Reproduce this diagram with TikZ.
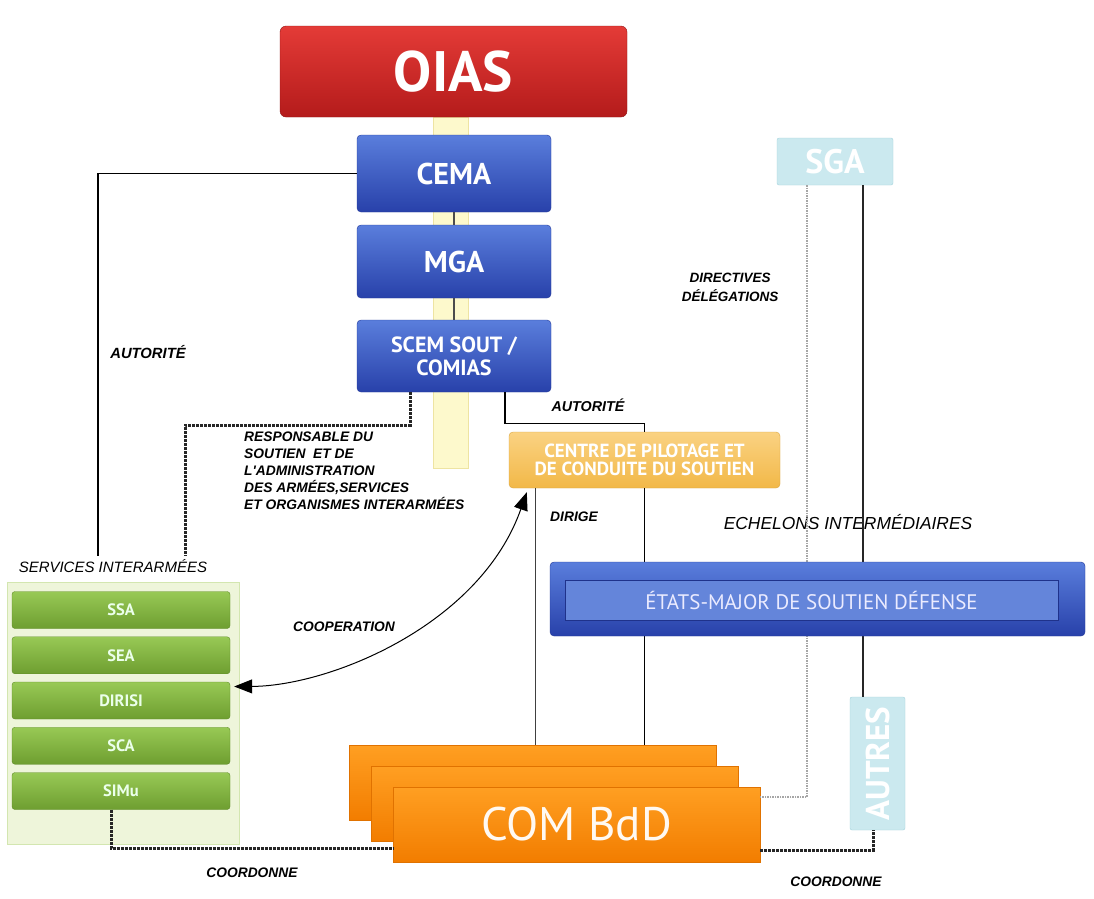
\documentclass[tikz,border=0pt]{standalone}
\usepackage{fontspec}
\setmainfont{PT Sans}
\newfontfamily\lblfont{Liberation Sans}
\usetikzlibrary{arrows.meta}

\definecolor{redtop}{HTML}{E43B37}
\definecolor{redbot}{HTML}{B41B1B}
\definecolor{bluetop}{HTML}{5A7EDC}
\definecolor{bluebot}{HTML}{2841AA}
\definecolor{bluedark}{HTML}{22389A}
\definecolor{innerblue}{HTML}{6485DA}
\definecolor{greentop}{HTML}{98C955}
\definecolor{greenbot}{HTML}{6E9E30}
\definecolor{greendark}{HTML}{5F8C27}
\definecolor{panelfill}{HTML}{EEF5DA}
\definecolor{paneldraw}{HTML}{D3E6B0}
\definecolor{orangetop}{HTML}{FF9F22}
\definecolor{orangebot}{HTML}{F27D00}
\definecolor{orangedark}{HTML}{E07200}
\definecolor{centretop}{HTML}{FAD282}
\definecolor{centrebot}{HTML}{F2B848}
\definecolor{cyanfill}{HTML}{CBE9EF}
\definecolor{cyandraw}{HTML}{A6D3DD}
\definecolor{stripfill}{HTML}{FDF9CC}
\definecolor{stripdraw}{HTML}{EEE4A2}

\begin{document}
\begin{tikzpicture}[x=1pt,y=-1pt,
    box/.style={rectangle,rounded corners=4pt,text=white,align=center,inner sep=0pt},
    bluebox/.style={box,draw=bluedark,top color=bluetop,bottom color=bluebot,minimum width=194pt},
    greenbox/.style={box,rounded corners=3pt,draw=greendark,top color=greentop,bottom color=greenbot,minimum width=218pt,minimum height=37pt,font=\fontsize{16.5}{16}\selectfont\bfseries,text=white!92!green},
    combox/.style={rectangle,draw=orangedark,top color=orangetop,bottom color=orangebot,minimum width=367pt,minimum height=75pt,inner sep=0pt},
    lbl/.style={font=\lblfont\fontsize{13.8}{17}\selectfont\bfseries\itshape,inner sep=1pt},
    link/.style={draw=black,line width=1.2pt},
    coordline/.style={line width=3pt,densely dotted,black!85},
    graydots/.style={line width=1.5pt,densely dotted,black!35}]

    \fill[white] (0,0) rectangle (1094,898);
    \useasboundingbox (0,0) rectangle (1094,898);

    \node[draw=stripdraw,fill=stripfill,minimum width=35pt,minimum height=351pt] (strip) at (450.5,292.5) {};

    \node[box,rounded corners=6pt,draw=redbot!80!black,top color=redtop,bottom color=redbot,minimum width=347pt,minimum height=91pt,font=\fontsize{57}{57}\selectfont\bfseries] (oias) at (453.5,71.5) {OIAS};
    \node[bluebox,minimum height=77pt,font=\fontsize{30}{30}\selectfont\bfseries] (cema) at (454,173.5) {CEMA};
    \node[bluebox,minimum height=73pt,font=\fontsize{30}{30}\selectfont\bfseries] (mga) at (454,261.5) {MGA};
    \node[bluebox,minimum height=72pt,font=\fontsize{22}{23}\selectfont\bfseries] (scem) at (454,356) {SCEM SOUT /\\COMIAS};

    \node[box,draw=centrebot!90!black,top color=centretop,bottom color=centrebot,minimum width=271pt,minimum height=56pt,font=\fontsize{19}{18.5}\selectfont\bfseries] (centre) at (644.5,460) {CENTRE DE PILOTAGE ET\\DE CONDUITE DU SOUTIEN};
    \node[box,rounded corners=2pt,draw=cyandraw,fill=cyanfill,minimum width=116pt,minimum height=47pt,font=\fontsize{34}{34}\selectfont\bfseries] (sga) at (835,161.5) {SGA};

    \node[draw=paneldraw,fill=panelfill,minimum width=232pt,minimum height=262pt] (panel) at (123,713) {};
    \foreach \nm/\txt [count=\i from 0] in {ssa/SSA,sea/SEA,dirisi/DIRISI,sca/SCA,simu/SIMu}
        \node[greenbox] (\nm) at (121,{610+45.25*\i}) {\txt};

    \node[combox] (comback) at (532.5,782.5) {};
    \node[combox] (commid) at (554.5,803.5) {};
    \node[combox,text=white!95!orange,font=\fontsize{47}{47}\selectfont] (comfront) at (576.5,824.5) {COM BdD};

    \node[box,rounded corners=2pt,draw=cyandraw,fill=cyanfill,minimum width=55pt,minimum height=133pt,font=\fontsize{33}{33}\selectfont\bfseries] (autres) at (877.5,763.5) {\rotatebox{90}{AUTRES}};

    \node[lbl,font=\lblfont\fontsize{14.8}{17}\selectfont\bfseries\itshape] (aut1) at (148,352) {AUTORITÉ};
    \node[lbl,anchor=north west,align=left] (resp) at (243,431) {RESPONSABLE DU\\SOUTIEN~ ET DE\\L'ADMINISTRATION\\DES ARMÉES,SERVICES\\ET ORGANISMES INTERARMÉES};
    \node[lbl,font=\lblfont\fontsize{14.3}{17}\selectfont\bfseries\itshape] (aut2) at (588,405) {AUTORITÉ};
    \node[lbl] (dirige) at (574,517) {DIRIGE};
    \node[lbl] (coop) at (344,627) {COOPERATION};
    \node[lbl,align=center,font=\lblfont\fontsize{13.5}{19}\selectfont\bfseries\itshape] (direct) at (730,287) {DIRECTIVES\\DÉLÉGATIONS};
    \node[font=\lblfont\fontsize{15}{15}\selectfont\itshape] (svc) at (113,566) {SERVICES INTERARMÉES};
    \node[font=\lblfont\fontsize{17.4}{17}\selectfont\itshape] (echelons) at (848,522) {ECHELONS INTERMÉDIAIRES};
    \node[lbl] (coord1) at (252,873) {COORDONNE};
    \node[lbl] (coord2) at (836,882) {COORDONNE};

    \coordinate (a1) at (98,556);
    \coordinate (r1) at (185,556);

    \draw[-,line width=1.5pt,black!70] (cema) -- (mga);
    \draw[-,line width=1.5pt,black!70] (mga) -- (scem);
    \draw[-,link] (cema.west) -| (a1);
    \draw[-,coordline] ([xshift=-44pt]scem.south) -- ++(0,33) -| (r1);
    \draw[-,link] ([xshift=51pt]scem.south) -- ++(0,31) -| (centre.north);
    \draw[-,line width=1pt,black!75] ([xshift=-109.5pt]centre.south) -- ([xshift=2.5pt]comback.north);
    \draw[-,link] (centre.south) -- (centre.south |- comback.north);
    \draw[-,graydots] ([xshift=-28pt]sga.south) |- ([yshift=27.5pt]comfront.east);
    \draw[-,line width=2pt,black!85] ([xshift=28pt]sga.south) -- ([xshift=28pt]sga.south |- autres.north);
    \draw[-,coordline] ([xshift=-10pt]simu.south) |- ([yshift=-23.5pt]comfront.west);
    \draw[-,coordline] ([yshift=-25.5pt]comfront.east) -| ([xshift=-4pt]autres.south);
    \draw[{Triangle[length=18pt,width=14pt]}-{Triangle[length=18pt,width=14pt]},line width=1pt] ([xshift=4pt,yshift=14pt]dirisi.east) .. controls (330,686) and (480,625) .. ([xshift=18pt,yshift=-4pt]centre.south west);

    \node[box,draw=bluedark,top color=bluetop,bottom color=bluebot,minimum width=535pt,minimum height=74pt] (emsd) at (817.5,599) {};
    \node[draw=bluedark!90!black,fill=innerblue,minimum width=493pt,minimum height=40pt,text=white!92!blue,font=\fontsize{21}{21}\selectfont] (emsdin) at (811.5,600) {ÉTATS-MAJOR DE SOUTIEN DÉFENSE};
\end{tikzpicture}
\end{document}
